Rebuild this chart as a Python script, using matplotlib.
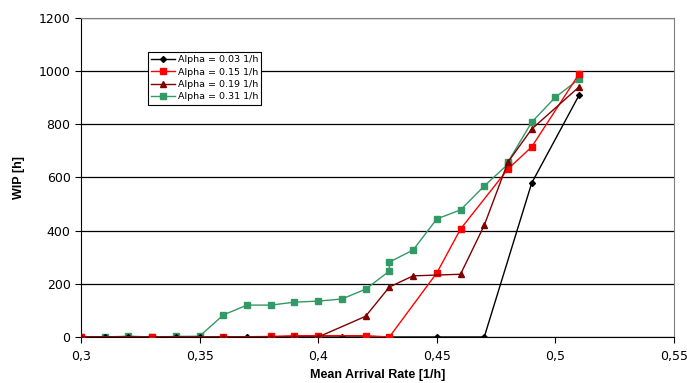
import matplotlib.pyplot as plt

plt.rcParams['font.family'] = ['DejaVu Sans']

# series data
x_a003 = [0.30, 0.31, 0.32, 0.33, 0.34, 0.35, 0.36, 0.37, 0.38, 0.39, 0.40, 0.41, 0.45, 0.47, 0.49, 0.51]
y_a003 = [0, 0, 0, 0, 0, 0, 0, 0, 0, 0, 0, 0, 0, 0, 579, 910]

x_a015 = [0.30, 0.33, 0.36, 0.38, 0.39, 0.40, 0.42, 0.43, 0.45, 0.46, 0.48, 0.49, 0.51]
y_a015 = [0, 0, 0, 2, 5, 5, 5, 0, 241, 406, 632, 715, 990]

x_a019 = [0.30, 0.36, 0.38, 0.39, 0.40, 0.42, 0.43, 0.44, 0.46, 0.47, 0.48, 0.49, 0.51]
y_a019 = [0, 0, 0, 0, 0, 78, 188, 230, 236, 420, 658, 782, 941]

x_a031 = [0.30, 0.31, 0.32, 0.33, 0.34, 0.35, 0.36, 0.37, 0.38, 0.39, 0.40, 0.41, 0.42,
          0.43, 0.43, 0.44, 0.45, 0.46, 0.47, 0.48, 0.48, 0.49, 0.50, 0.51]
y_a031 = [0, 0, 3, 0, 2, 3, 83, 120, 120, 131, 135, 143, 180,
          248, 282, 327, 444, 478, 568, 650, 658, 808, 902, 970]

labels = ['Alpha = 0.03 1/h', 'Alpha = 0.15 1/h', 'Alpha = 0.19 1/h', 'Alpha = 0.31 1/h']
xticks = [0.3, 0.35, 0.4, 0.45, 0.5, 0.55]
yticks = [0, 200, 400, 600, 800, 1000, 1200]

fig = plt.figure(figsize=(6.87, 3.83), dpi=100)
ax = fig.add_axes([0.1179, 0.1201, 0.8632, 0.833])

ax.plot(x_a003, y_a003, color='black', marker='D', ms=3, lw=1, label=labels[0], zorder=3)
ax.plot(x_a015, y_a015, color='#ff0000', marker='s', ms=4, lw=1, label=labels[1], zorder=4)
ax.plot(x_a019, y_a019, color='#800000', marker='^', ms=4.5, lw=1, label=labels[2], zorder=5)
ax.plot(x_a031, y_a031, color='#339966', marker='s', ms=5, lw=1, label=labels[3], zorder=2)

ax.set_xlim(0.3, 0.55)
ax.set_ylim(0, 1200)
ax.set_xticks(xticks)
ax.set_xticklabels([('%g' % t).replace('.', ',') for t in xticks])
ax.set_yticks(yticks)
ax.tick_params(labelsize=9, length=4, width=0.8, color='black')
ax.tick_params(axis='x', pad=5)
ax.yaxis.grid(True, color='black', lw=0.9)
ax.set_axisbelow(True)

for s in ['top', 'right']:
    ax.spines[s].set_color('#808080')
for s in ['left', 'bottom']:
    ax.spines[s].set_color('black')

ax.set_xlabel('Mean Arrival Rate [1/h]', fontsize=9, fontweight='bold',
              family='Liberation Sans', labelpad=5)
ax.set_ylabel('WIP [h]', fontsize=9, fontweight='bold',
              family='Liberation Sans', labelpad=10)

leg = ax.legend(loc='upper left', bbox_to_anchor=(148 / 687, 1 - 52 / 383),
                bbox_transform=fig.transFigure, fontsize=6.8, frameon=True, fancybox=False,
                edgecolor='black', framealpha=1, borderpad=0.35, labelspacing=0.35,
                handlelength=2.5, handletextpad=0.3, borderaxespad=0)
leg.get_frame().set_linewidth(0.8)

fig.savefig('out.png', dpi=100)
